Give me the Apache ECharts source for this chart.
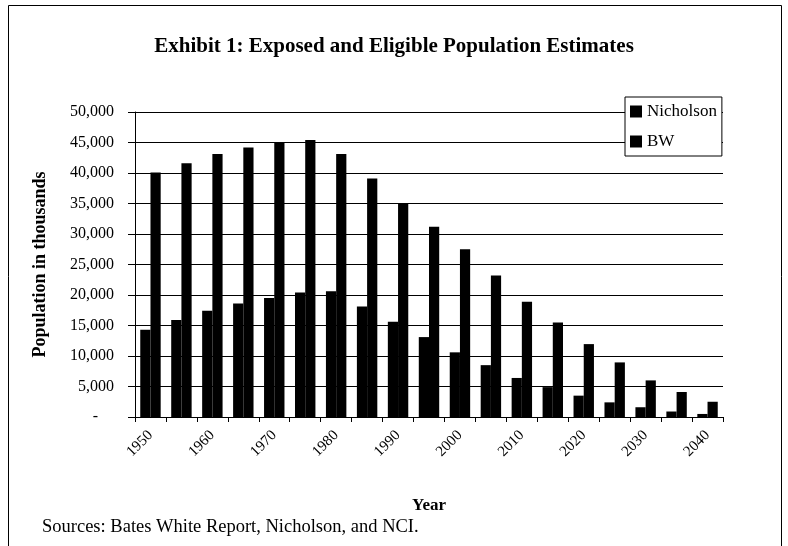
<!DOCTYPE html>
<html>
<head>
<meta charset="utf-8">
<script src="https://cdn.jsdelivr.net/npm/echarts@6/dist/echarts.min.js"></script>
<style>
  html, body { margin: 0; padding: 0; background: #fff; }
  #chart { width: 788px; height: 546px; }
</style>
</head>
<body>
<div id="chart"></div>
<script>
// Five-year steps; every other year is labelled on the axis
const years = ['1950', '1955', '1960', '1965', '1970', '1975', '1980', '1985', '1990', '1995',
               '2000', '2005', '2010', '2015', '2020', '2025', '2030', '2035', '2040'];

// Population in thousands
const nicholson = [14300, 15900, 17400, 18600, 19500, 20400, 20600, 18100, 15600, 13100,
                   10600, 8500, 6400, 4900, 3500, 2400, 1600, 900, 500];
const bw = [40100, 41600, 43100, 44200, 45100, 45400, 43100, 39100, 35000, 31200,
            27500, 23200, 18900, 15500, 11950, 8950, 6000, 4100, 2500];

const yMax = 50000;
const yStep = 5000;

const serif = '"Liberation Serif", "DejaVu Serif", serif';

const chart = echarts.init(document.getElementById('chart'), null, { renderer: 'canvas' });

chart.setOption({
  animation: false,
  backgroundColor: '#fff',
  title: {
    text: 'Exhibit 1: Exposed and Eligible Population Estimates',
    left: 'center',
    top: 31,
    textStyle: { fontFamily: serif, fontSize: 21, fontWeight: 'bold', color: '#000' }
  },
  legend: {
    orient: 'vertical',
    left: 625,
    top: 97,
    padding: [6, 5, 6, 5],
    itemGap: 13,
    itemWidth: 12,
    itemHeight: 12,
    borderColor: '#000',
    borderWidth: 1,
    backgroundColor: '#fff',
    textStyle: { fontFamily: serif, fontSize: 17, color: '#000' },
    data: [
      { name: 'Nicholson', icon: 'rect' },
      { name: 'BW', icon: 'rect' }
    ]
  },
  grid: { left: 135, right: 65, top: 112, bottom: 129, containLabel: false },
  xAxis: {
    type: 'category',
    data: years,
    name: 'Year',
    nameLocation: 'middle',
    nameGap: 80,
    nameTextStyle: { fontFamily: serif, fontSize: 17, fontWeight: 'bold', color: '#000' },
    axisLine: { lineStyle: { color: '#000', width: 1 } },
    axisTick: { show: true, interval: 0, length: 5, lineStyle: { color: '#000' } },
    axisLabel: {
      interval: 1,
      rotate: 45,
      margin: 16,
      fontFamily: serif,
      fontSize: 15,
      color: '#000'
    },
    splitLine: { show: false }
  },
  yAxis: {
    type: 'value',
    min: 0,
    max: yMax,
    interval: yStep,
    name: 'Population in thousands',
    nameLocation: 'middle',
    nameGap: 86,
    nameTextStyle: { fontFamily: serif, fontSize: 18, fontWeight: 'bold', color: '#000' },
    axisLine: { show: true, lineStyle: { color: '#000', width: 1 } },
    axisTick: { show: true, length: 7, lineStyle: { color: '#000' } },
    axisLabel: {
      margin: 21,
      fontFamily: serif,
      fontSize: 16,
      color: '#000',
      // accounting style: zero shows as a dash set in from the right
      formatter: v => v === 0 ? '{z|-}' : v.toLocaleString('en-US'),
      rich: { z: { fontFamily: serif, fontSize: 16, color: '#000', padding: [0, 16, 0, 0] } }
    },
    splitLine: { show: true, lineStyle: { color: '#000', width: 1 } }
  },
  series: [
    {
      name: 'Nicholson',
      type: 'bar',
      data: nicholson,
      barGap: '0%',
      barCategoryGap: '34%',
      itemStyle: { color: '#000' }
    },
    {
      name: 'BW',
      type: 'bar',
      data: bw,
      barGap: '0%',
      barCategoryGap: '34%',
      itemStyle: { color: '#000' }
    }
  ],
  graphic: [
    {
      type: 'rect',
      shape: { x: 8.5, y: 5.5, width: 773, height: 560 },
      style: { fill: 'none', stroke: '#000', lineWidth: 1 },
      silent: true
    },
    {
      type: 'text',
      left: 42,
      top: 518,
      style: {
        text: 'Sources: Bates White Report, Nicholson, and NCI.',
        font: '18.5px ' + serif,
        fill: '#000'
      }
    }
  ]
});
</script>
</body>
</html>
